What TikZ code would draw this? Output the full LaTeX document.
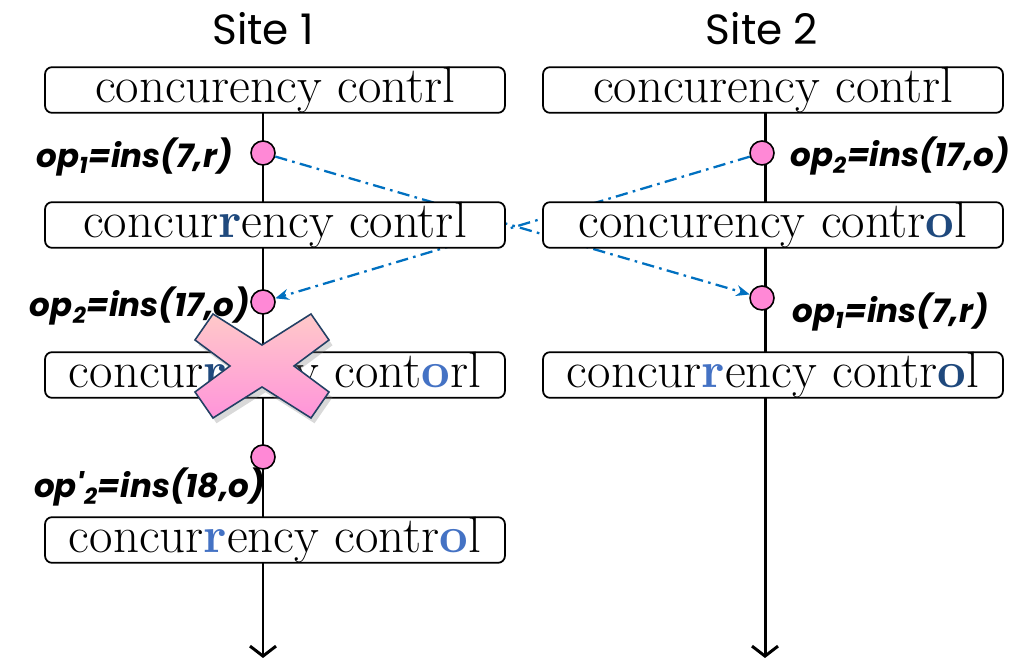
\documentclass[tikz,border=0pt]{standalone}
\usepackage{fontspec}
\newfontfamily\opfont{Poppins}
\usetikzlibrary{arrows.meta, positioning, backgrounds, shadows}

\definecolor{darkch}{RGB}{31,73,125}
\definecolor{lightch}{RGB}{68,114,196}
\definecolor{sendblue}{RGB}{0,112,192}
\definecolor{dotpink}{RGB}{255,136,214}
\definecolor{crossedge}{RGB}{35,64,100}

\newcommand{\oldins}[1]{\textcolor{darkch}{\textbf{#1}}}
\newcommand{\newins}[1]{\textcolor{lightch}{\textbf{#1}}}

\tikzset{
  doc/.style={draw, rounded corners=4pt, fill=white, line width=1pt,
    minimum width=9.2cm, minimum height=0.88cm, inner sep=0pt,
    font=\fontsize{29}{32}\selectfont},
  opdot/.style={circle, draw, fill=dotpink, line width=0.9pt,
    minimum size=0.48cm, inner sep=0pt},
  oplabel/.style={inner sep=0pt, font=\opfont\bfseries\itshape\fontsize{18.5}{21}\selectfont},
  sitename/.style={inner sep=0pt, font=\opfont\fontsize{24}{28}\selectfont},
  timeline/.style={line width=1.7pt, -{Straight Barb[length=0.2cm, width=0.52cm]}},
  sendop/.style={sendblue, dash pattern=on 7pt off 3pt on 1.5pt off 3pt, line width=1.3pt,
    -{Stealth[length=0.27cm, width=0.22cm]}},
  xmark/.style={draw=crossedge, line width=0.9pt, top color=pink!85!white, bottom color=dotpink!90!white,
    drop shadow={opacity=0.3, shadow xshift=2pt, shadow yshift=-3pt}}
}

\begin{document}
\begin{tikzpicture}[x=0.02cm, y=-0.02cm]
  \useasboundingbox (0,0) rectangle (1025,661);

  \node[sitename, anchor=base] (s1) at (263,45) {Site 1};
  \node[sitename, anchor=base] (s2) at (762,45) {Site 2};

  \node[doc] (a0) at (275,90) {concurency contrl};
  \node[doc] (a1) at (275,225) {concur\oldins{r}ency contrl};
  \node[doc] (a2) at (275,375) {concur\oldins{r}ency cont\newins{o}rl};
  \node[doc] (a3) at (275,540) {concur\newins{r}ency contr\newins{o}l};

  \node[doc] (b0) at (773,90) {concurency contrl};
  \node[doc] (b1) at (773,225) {concurency contr\oldins{o}l};
  \node[doc] (b2) at (773,375) {concur\newins{r}ency contr\oldins{o}l};

  \coordinate (aend) at (263,658);
  \coordinate (bend) at (765,658);

  \node[opdot] (p1) at (263,153) {};
  \node[opdot] (p2) at (263,302) {};
  \node[opdot] (p3) at (263,457) {};
  \node[opdot] (q2) at (762,153) {};
  \node[opdot] (q1) at (762,298) {};

  \begin{scope}[on background layer]
    \draw[timeline] (263,112) -- (aend);
    \draw[timeline] (765,112) -- (bend);
    \draw[sendop] (p1) -- (q1);
    \draw[sendop] (q2) -- (p2);
  \end{scope}

  \node[oplabel, anchor=base east] (l1) at (233,168) {op\textsubscript{1}=ins(7,r)};
  \node[oplabel, anchor=base east] (l2) at (250,317) {op\textsubscript{2}=ins(17,o)};
  \node[oplabel, anchor=base east] (l3) at (265,498) {op'\textsubscript{2}=ins(18,o)};
  \node[oplabel, anchor=base west] (m2) at (790,167) {op\textsubscript{2}=ins(17,o)};
  \node[oplabel, anchor=base west] (m1) at (792,323) {op\textsubscript{1}=ins(7,r)};

  \draw[xmark, shift={(262,366)}] (0,-21) -- (49,-52) -- (67,-26) -- (32,0) -- (67,26) -- (49,52)
    -- (0,21) -- (-49,52) -- (-67,26) -- (-32,0) -- (-67,-26) -- (-49,-52) -- cycle;
\end{tikzpicture}
\end{document}
